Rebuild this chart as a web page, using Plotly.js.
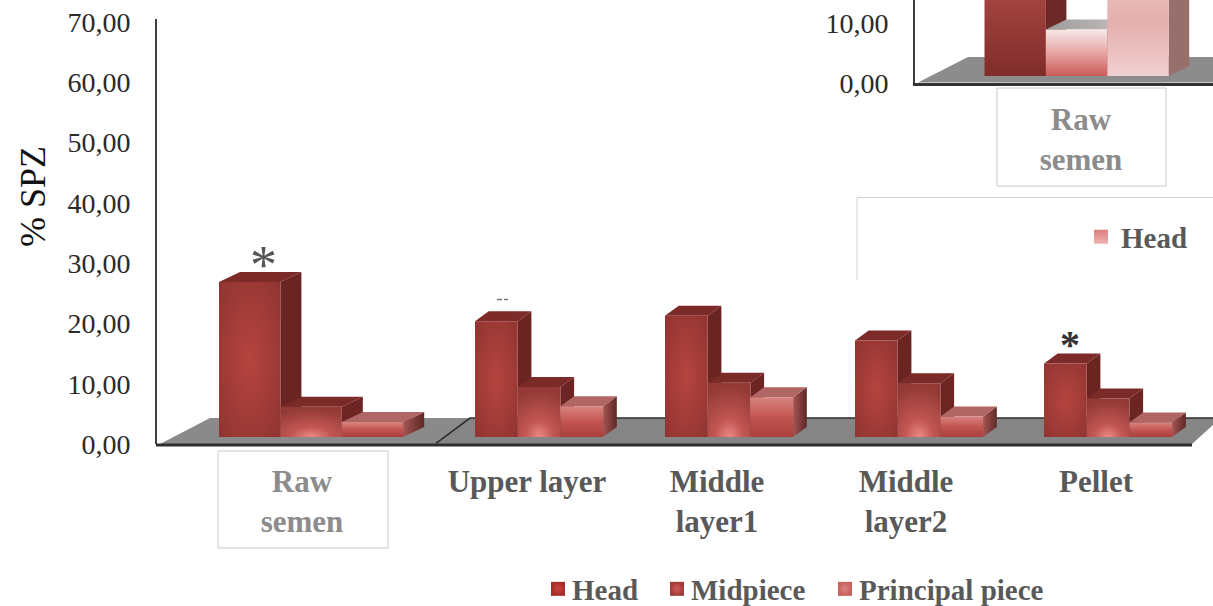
<!DOCTYPE html>
<html>
<head>
<meta charset="utf-8">
<script src="https://cdn.plot.ly/plotly-3.0.1.min.js"></script>
<style>html,body{margin:0;padding:0;background:#fff;overflow:hidden}#chart{width:1213px;height:606px}</style>
</head>
<body>
<div id="chart"></div>
<script>
// Sperm fragments per gradient layer, % SPZ
const categories = ["Raw<br>semen", "Upper layer", "Middle<br>layer1", "Middle<br>layer2", "Pellet"];
const seriesNames = ["Head", "Midpiece", "Principal piece"];
const headValues = [25.7, 19.2, 20.1, 16.0, 12.2];
const midpieceValues = [5.0, 8.3, 9.0, 8.9, 6.4];
const principalValues = [2.5, 5.1, 6.6, 3.4, 2.4];
const yTicks = [0, 10, 20, 30, 40, 50, 60, 70];
const yTickLabels = ["0,00", "10,00", "20,00", "30,00", "40,00", "50,00", "60,00", "70,00"];

// Second panel at the top right, cut by the page edge
const insetCategories = ["Raw<br>semen"];
const insetValues = [18, 7.7, 18];
const insetTicks = [0, 10];
const insetTickLabels = ["0,00", "10,00"];

// Page geometry, in pixels
const W = 1213, H = 606;
const PX_PER_UNIT = 6.03;
const groupLeft = [219, 475, 665, 855, 1044];
const barWidth = [61.4, 42.7, 42.7, 42.7, 42.7];
const depthX = [21, 13.7, 13.7, 13.7, 13.7];
const labelCentre = [302, 527, 717, 906, 1096];
const legendTextLeft = [572, 691, 859];
const DEPTH_Y = 10 / PX_PER_UNIT;
const BASE = 7 / PX_PER_UNIT;
const INK = "#595959", PALE_INK = "#8c8c8c", SERIF = '"Liberation Serif", serif';

const px = x => x / W;
const py = y => 1 - y / H;

function face(x, y, color, meta, axes) {
  return {
    type: "scatter", mode: "lines", fill: "toself", fillcolor: color, meta: meta,
    x: x, y: y, line: {width: 0, color: color}, showlegend: false, hoverinfo: "skip",
    xaxis: axes ? "x2" : "x", yaxis: axes ? "y2" : "y"
  };
}

// A 3D-looking column: side and top faces first, front face over them
function column(x0, w, dx, base, dy, value, styles, axes) {
  const x1 = x0 + w, top = base + value;
  return [
    face([x1, x1 + dx, x1 + dx, x1, x1], [base, base + dy, top + dy, top, base], styles[0], styles[3], axes),
    face([x0, x0 + dx, x1 + dx, x1, x0], [top, top + dy, top + dy, top, top], styles[1], styles[4], axes),
    face([x0, x1, x1, x0, x0], [base, base, top, top, base], styles[2], styles[5], axes)
  ];
}

const traces = [];
const floorTop = 26 / PX_PER_UNIT;
traces.push(face([160, 210, 470, 436, 160], [0, floorTop, floorTop, 0, 0], "#8a8a8a", "floor"));
traces.push(face([436, 470, 1213, 1213, 1192, 436], [0, floorTop, floorTop, 19 / PX_PER_UNIT, 0, 0], "#858585", "floor"));
traces.push({type: "scatter", mode: "lines", x: [436, 470, 1213], y: [0.1, floorTop, floorTop],
  line: {color: "#2e2e2e", width: 1.6}, showlegend: false, hoverinfo: "skip"});

const mainStyles = [
  ["#6a2421", "#7c2b28", "#a63c38", "", "", "headFront"],
  ["#6c2522", "#7a2a27", "#a8403c", "", "", "midFront"],
  ["#7c3a38", "#b06664", "#c25551", "prinSide", "", "prinFront"]
];
const seriesValues = [headValues, midpieceValues, principalValues];
categories.forEach((c, i) => {
  seriesValues.forEach((vals, s) => {
    traces.push(...column(groupLeft[i] + s * barWidth[i], barWidth[i], depthX[i], BASE, DEPTH_Y, vals[i], mainStyles[s]));
  });
});

// Legend entries of the main panel
const legendColors = [["#a72c2a", "#c9423d"], ["#a23a37", "#cf5b57"], ["#c9605c", "#d98380"]];
seriesNames.forEach((n, s) => traces.push({
  type: "scatter", mode: "markers", name: n, x: [null], y: [null],
  marker: {symbol: "square", size: 14, color: legendColors[s][0], line: {width: 0},
    gradient: {type: "radial", color: legendColors[s][1]}},
  hoverinfo: "skip"
}));

// Second panel
const insetFloorTop = 26 / PX_PER_UNIT;
const insetBase = 7 / PX_PER_UNIT;
traces.push(face([918, 968, 1213, 1213, 918], [0.1, insetFloorTop, insetFloorTop, 0.1, 0.1], "#8c8c8c", "floor", true));
const insetStyles = [
  ["#6b2a28", "#7c2b28", "#99403c", "", "", "insetHead"],
  ["#6b2a28", "#b5aaaa", "#e6a6a4", "", "insetMidTop", "insetMid"],
  ["#97706e", "#c9a9a9", "#ecc4c4", "", "", "insetPrin"]
];
insetValues.forEach((v, s) => {
  traces.push(...column(984.5 + s * 61.4, 61.4, 20.5, insetBase, DEPTH_Y, v, insetStyles[s], true));
});
traces.push({
  type: "scatter", mode: "markers", name: seriesNames[0], x: [null], y: [null], legend: "legend2",
  xaxis: "x2", yaxis: "y2",
  marker: {symbol: "square", size: 14, color: "#dc7f7e", line: {width: 0},
    gradient: {type: "vertical", color: "#eeb4b2"}},
  hoverinfo: "skip"
});

const rawLabel = t => t.split("<br>").map(p => `<span style="color:${PALE_INK}">${p}</span>`).join("<br>");
const mainTickText = categories.map((c, i) => i === 0 ? rawLabel(c) : c);

const tickFont = {family: SERIF, size: 28, color: "#2b2b2b"};
const catFont = {family: SERIF, size: 31, color: INK, weight: 700};
const legendFont = {family: SERIF, size: 29, color: INK, weight: 700};

const layout = {
  width: W, height: H, margin: {l: 0, r: 0, t: 0, b: 0, autoexpand: false},
  paper_bgcolor: "#fff", plot_bgcolor: "rgba(0,0,0,0)",
  xaxis: {domain: [px(157), 1], range: [157, W], showgrid: false, zeroline: false, showline: false,
    ticks: "", tickmode: "array", tickvals: labelCentre, ticktext: mainTickText, tickfont: catFont,
    ticklabelstandoff: 16, fixedrange: true},
  yaxis: {domain: [py(444), py(19)], range: [0, 425 / PX_PER_UNIT], showgrid: false, zeroline: false,
    showline: true, linecolor: "#404040", linewidth: 2, ticks: "", tickmode: "array",
    tickvals: yTicks, ticktext: yTickLabels, tickfont: tickFont, ticklabelstandoff: 19, fixedrange: true},
  xaxis2: {domain: [px(915), 1], range: [915, W], anchor: "y2", showgrid: false, zeroline: false,
    showline: true, linecolor: "#333", linewidth: 2.5, ticks: "", tickmode: "array",
    tickvals: [1081], ticktext: insetCategories.map(rawLabel), tickfont: catFont,
    ticklabelstandoff: 7, fixedrange: true},
  yaxis2: {domain: [py(83), 1], range: [0, 83 / PX_PER_UNIT], anchor: "x2", showgrid: false, zeroline: false,
    showline: true, linecolor: "#404040", linewidth: 2, ticks: "", tickmode: "array",
    tickvals: insetTicks, ticktext: insetTickLabels, tickfont: tickFont, ticklabelstandoff: 19, fixedrange: true},
  showlegend: true,
  legend: {orientation: "h", x: px(532), xanchor: "left", y: py(589), yanchor: "middle",
    font: legendFont, bgcolor: "rgba(0,0,0,0)", itemclick: false, itemdoubleclick: false},
  legend2: {orientation: "h", x: px(1081), xanchor: "left", y: py(237), yanchor: "middle",
    font: legendFont, bgcolor: "rgba(0,0,0,0)", itemclick: false, itemdoubleclick: false},
  shapes: [
    {type: "line", xref: "paper", yref: "paper", x0: px(156), x1: px(1192), y0: py(445), y1: py(445),
      line: {color: "#2e2e2e", width: 3}},
    {type: "rect", xref: "paper", yref: "paper", x0: px(218), x1: px(388), y0: py(451), y1: py(548),
      line: {color: "#c8c8c8", width: 1}},
    {type: "rect", xref: "paper", yref: "paper", x0: px(997), x1: px(1166), y0: py(88), y1: py(186),
      line: {color: "#c8c8c8", width: 1}},
    {type: "path", xref: "paper", yref: "paper",
      path: `M${px(857)},${py(280)} L${px(857)},${py(197.5)} L1,${py(197.5)}`,
      line: {color: "#d4d4d4", width: 1}},
    {type: "line", xref: "paper", yref: "paper", x0: px(497), x1: px(502), y0: py(299.5), y1: py(299.5),
      line: {color: "#777", width: 1.5}},
    {type: "line", xref: "paper", yref: "paper", x0: px(504), x1: px(508), y0: py(299.5), y1: py(299.5),
      line: {color: "#777", width: 1.5}}
  ],
  annotations: [
    {text: "% SPZ", xref: "paper", yref: "paper", x: px(33), y: py(197), textangle: -90, showarrow: false,
      xanchor: "center", yanchor: "middle", font: {family: SERIF, size: 36, color: "#111"}},
    {text: "*", xref: "paper", yref: "paper", x: px(263), y: py(265), showarrow: false,
      xanchor: "center", yanchor: "middle", font: {family: SERIF, size: 54, color: "#555"}},
    {text: "*", xref: "paper", yref: "paper", x: px(1070), y: py(344), showarrow: false,
      xanchor: "center", yanchor: "middle", font: {family: SERIF, size: 40, color: "#333", weight: 700}}
  ]
};

// Shading of the column faces
const gradients = {
  headFront: {radial: [0.5, 0.5, 0.72], stops: [[0, "#b6443f"], [1, "#8f3431"]]},
  midFront: {radial: [0.5, 1, 0.95], stops: [[0, "#ea8a88"], [0.35, "#c25652"], [1, "#933a36"]]},
  prinFront: {stops: [[0, "#d98481"], [0.5, "#c25551"], [1, "#a93f3b"]]},
  prinSide: {horizontal: true, stops: [[0, "#a45552"], [1, "#5f2826"]]},
  insetHead: {stops: [[0, "#b34d49"], [1, "#802c29"]]},
  insetMid: {stops: [[0, "#f6e8e8"], [0.5, "#e6a6a4"], [1, "#c95a58"]]},
  insetMidTop: {horizontal: true, stops: [[0, "#9d9d9d"], [1, "#c4bcbc"]]},
  insetPrin: {stops: [[0, "#f0caca"], [0.5, "#e4aeac"], [1, "#f0d0d0"]]}
};

function installGradients(gd) {
  const NS = "http://www.w3.org/2000/svg";
  const defs = gd.querySelector("svg.main-svg defs");
  Object.keys(gradients).forEach(id => {
    const g = gradients[id];
    const el = document.createElementNS(NS, g.radial ? "radialGradient" : "linearGradient");
    el.setAttribute("id", "face-" + id);
    if (g.radial) {
      el.setAttribute("cx", g.radial[0]); el.setAttribute("cy", g.radial[1]); el.setAttribute("r", g.radial[2]);
    } else if (g.horizontal) {
      el.setAttribute("x1", 0); el.setAttribute("x2", 1); el.setAttribute("y1", 0); el.setAttribute("y2", 0);
    } else {
      el.setAttribute("x1", 0); el.setAttribute("x2", 0); el.setAttribute("y1", 0); el.setAttribute("y2", 1);
    }
    g.stops.forEach(s => {
      const stop = document.createElementNS(NS, "stop");
      stop.setAttribute("offset", s[0]); stop.setAttribute("stop-color", s[1]);
      el.appendChild(stop);
    });
    defs.appendChild(el);
  });
  gd.querySelectorAll(".scatterlayer .trace").forEach(el => {
    const meta = el.__data__ && el.__data__[0] && el.__data__[0].trace.meta;
    if (meta && gradients[meta]) {
      el.querySelectorAll(".js-fill").forEach(p => { p.style.fill = `url(#face-${meta})`; });
    }
  });
}

// Tighter swatch-to-text gap and fixed entry positions in the legends
function placeLegends(gd) {
  gd.querySelectorAll(".legend").forEach(leg => {
    const box = leg.querySelector(".scrollbox");
    if (box) box.removeAttribute("clip-path");
    const items = leg.querySelectorAll(".traces");
    const origin = leg.getCTM().e;
    items.forEach((it, k) => {
      const sym = it.querySelector(".legendpoints") || it.querySelector(".legendsymbols");
      if (sym) sym.setAttribute("transform", "translate(6,0)");
      if (items.length > 1) {
        const m = it.getAttribute("transform").match(/translate\(([^,]+),\s*([^)]+)\)/);
        it.setAttribute("transform", `translate(${legendTextLeft[k] - 40 - origin},${m[2]})`);
      }
    });
  });
}

Plotly.newPlot("chart", traces, layout, {displayModeBar: false}).then(gd => {
  installGradients(gd);
  placeLegends(gd);
});
</script>
</body>
</html>
